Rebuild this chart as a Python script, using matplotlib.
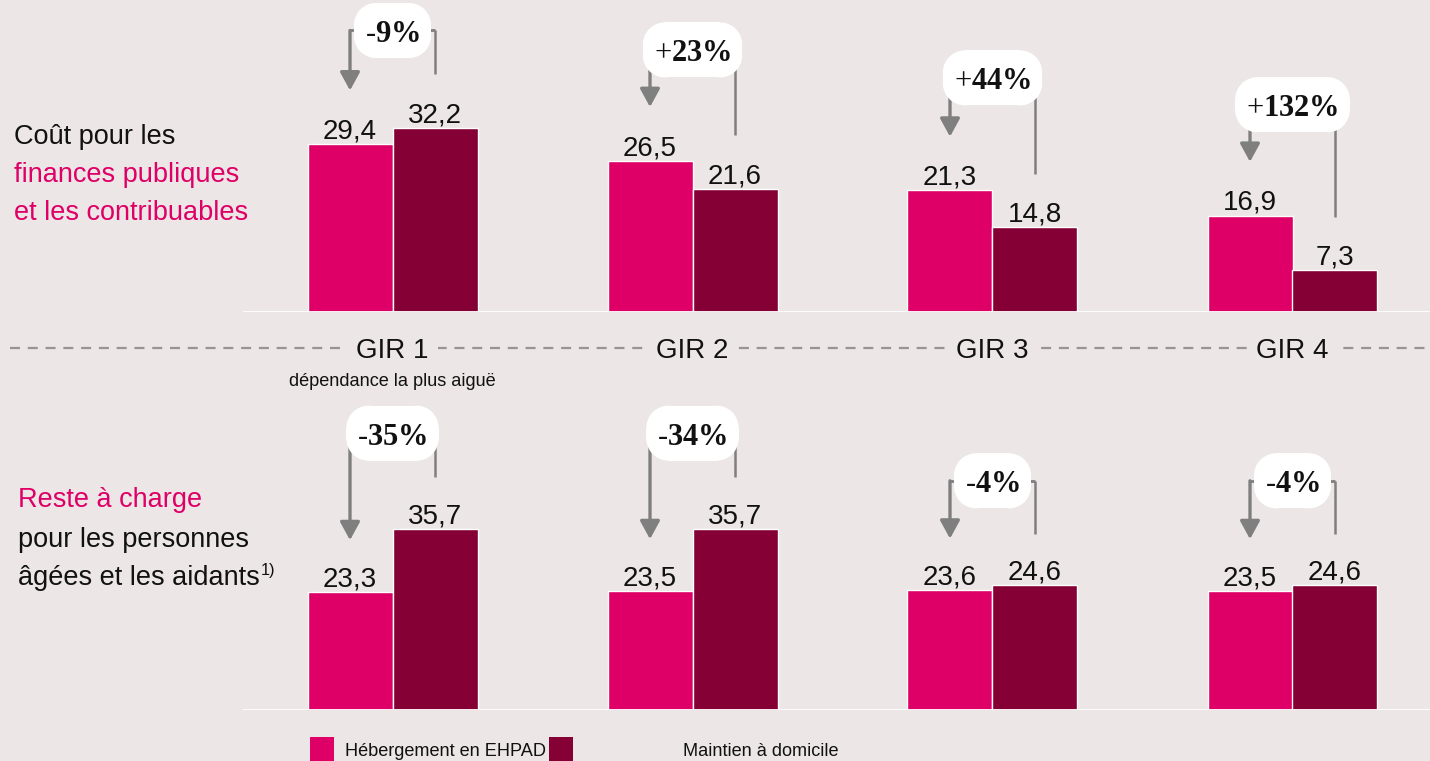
import numpy as np
import matplotlib
matplotlib.use('Agg')
import matplotlib.pyplot as plt
import matplotlib.patches as patches
from matplotlib.transforms import IdentityTransform
from matplotlib import font_manager as fm

# Data
groups = ['GIR 1', 'GIR 2', 'GIR 3', 'GIR 4']
cout_ehpad = [29.4, 26.5, 21.3, 16.9]
cout_domicile = [32.2, 21.6, 14.8, 7.3]
cout_ecart = ['-9%', '+23%', '+44%', '+132%']
reste_ehpad = [23.3, 23.5, 23.6, 23.5]
reste_domicile = [35.7, 35.7, 24.6, 24.6]
reste_ecart = ['-35%', '-34%', '-4%', '-4%']
legend_labels = ['Hébergement en EHPAD', 'Maintien à domicile']

# Colors
bg = '#ECE6E6'
pink = '#DE0066'
dark = '#850035'
grey = '#7F7F7F'
txt = '#111111'

# Fonts
names = {f.name for f in fm.fontManager.ttflist}
if 'Liberation Sans Narrow' in names:
    sans, k = 'Liberation Sans Narrow', 1.0
else:
    sans, k = 'Liberation Sans', 0.87
plt.rcParams['font.family'] = [sans, 'DejaVu Sans']
plt.rcParams['mathtext.fontset'] = 'custom'
plt.rcParams['mathtext.rm'] = 'Liberation Serif'
plt.rcParams['mathtext.bf'] = 'Liberation Serif:bold'

W, H = 1430, 761
fig = plt.figure(figsize=(W / 100, H / 100), dpi=100, facecolor=bg)

def fx(px):
    return px / W

def fy(py):
    return 1 - py / H

x0_px, grp_px = 392.5, 300.0
bw = 85 / grp_px
xlim = (-(x0_px - 243) / grp_px, (W - x0_px) / grp_px)

def make_ax(base_px, top_px, scale):
    ax = fig.add_axes([fx(243), fy(base_px), fx(W - 243), (base_px - top_px) / H])
    ax.set_xlim(*xlim)
    ax.set_ylim(0, (base_px - top_px) / scale)
    ax.set_axis_off()
    ax.patch.set_alpha(0)
    return ax

ax_top = make_ax(312, 0, 5.71)
ax_bot = make_ax(710, 400, 5.07)

top_callout_y = [49.3, 45.9, 41.0, 36.3]
bot_callout_y = [54.6, 54.6, 45.2, 45.2]

callouts = []

def fmt(v):
    return f'{v:.1f}'.replace('.', ',')

def panel(ax, a, b, ecarts, cy, off):
    x = np.arange(len(a))
    ax.bar(x - bw / 2, a, bw, color=pink, edgecolor='white', linewidth=1.0, zorder=2)
    ax.bar(x + bw / 2, b, bw, color=dark, edgecolor='white', linewidth=1.0, zorder=2)
    ax.axhline(0, color='white', lw=2.0, zorder=3)
    for i in range(len(a)):
        for xx, v in ((x[i] - bw / 2, a[i]), (x[i] + bw / 2, b[i])):
            ax.annotate(fmt(v), (xx, v), xytext=(0, 4), textcoords='offset points',
                        ha='center', va='baseline', fontsize=23 * k, color=txt)
        xp, xd = x[i] - bw / 2, x[i] + bw / 2
        ax.plot([xp, xd], [cy[i], cy[i]], color=grey, lw=2.0, zorder=4, clip_on=False,
                solid_capstyle='butt')
        ax.plot([xd, xd], [cy[i], b[i] + off], color=grey, lw=1.8, zorder=4, clip_on=False,
                solid_capstyle='butt')
        ax.annotate('', xy=(xp, a[i] + off), xytext=(xp, cy[i]),
                    arrowprops=dict(arrowstyle='-|>,head_width=0.3,head_length=0.55',
                                    mutation_scale=20, lw=2.4, color=grey,
                                    shrinkA=0, shrinkB=0), zorder=4, annotation_clip=False)
        s = ecarts[i]
        sign = '\u2010' if s[0] == '-' else '+'
        lab = r'$\mathrm{%s}\mathbf{%s\%%}$' % (sign, s[1:-1])
        t = ax.annotate(lab, (x[i], cy[i]), xytext=(0, -2.5), textcoords='offset points',
                        ha='center', va='center', fontsize=22, color=txt, zorder=6,
                        annotation_clip=False)
        callouts.append((ax, x[i], cy[i], t))

panel(ax_top, cout_ehpad, cout_domicile, cout_ecart, top_callout_y, 9.4)
panel(ax_bot, reste_ehpad, reste_domicile, reste_ecart, bot_callout_y, 10.2)

# dashed separator with GIR labels
fig.add_artist(plt.Line2D([fx(10), fx(W)], [fy(348), fy(348)], color='#9A9392', lw=1.6,
                          dashes=(4.5, 3.5), transform=fig.transFigure, zorder=1))
for i, g in enumerate(groups):
    fig.text(fx(x0_px + i * grp_px), fy(351), g, ha='center', va='center',
             fontsize=23 * k, color=txt, zorder=3,
             bbox=dict(boxstyle='square,pad=0.35', fc=bg, ec='none'))
fig.text(fx(x0_px), fy(381), 'dépendance la plus aiguë', ha='center', va='center',
         fontsize=15.5 * 0.84, color=txt)

# left labels
lk = 0.85
for py, s, c in ((137, 'Coût pour les', txt), (175, 'finances publiques', pink),
                 (213, 'et les contribuables', pink)):
    fig.text(fx(14), fy(py), s, ha='left', va='center', fontsize=23 * lk, color=c)
for py, s, c in ((500, 'Reste à charge', pink), (540, 'pour les personnes', txt),
                 (578, 'âgées et les aidants', txt)):
    t = fig.text(fx(18), fy(py), s, ha='left', va='center', fontsize=23 * lk, color=c)

# legend
for xl, c in ((310, pink), (549, dark)):
    fig.add_artist(patches.Rectangle((fx(xl), 0), fx(24), fy(737), facecolor=c,
                                     edgecolor='none', transform=fig.transFigure))
fig.text(fx(345), fy(751), legend_labels[0], ha='left', va='center', fontsize=15.5 * 0.84, color=txt)
fig.text(fx(683), fy(751), legend_labels[1], ha='left', va='center', fontsize=15.5 * 0.84, color=txt)

fig.canvas.draw()
ext = t.get_window_extent()
fig.text(ext.x1 / W + 0.001, fy(570), '1)', ha='left', va='center', fontsize=14 * 0.84, color=txt)

# white rounded boxes behind the callout labels (rectangles + corner circles)
def add_white(ax, p):
    p.set(fc='white', ec='none', transform=IdentityTransform(), zorder=5, clip_on=False)
    ax.add_artist(p)

for ax, xc, yc, tt in callouts:
    e = tt.get_window_extent()
    cx, cyd = ax.transData.transform((xc, yc))
    hh = 27.5
    rr = 22
    hw = max(e.width + 22, 2 * rr + 8) / 2
    add_white(ax, patches.Rectangle((cx - hw, cyd - hh + rr), 2 * hw, 2 * (hh - rr)))
    add_white(ax, patches.Rectangle((cx - hw + rr, cyd - hh), 2 * (hw - rr), 2 * hh))
    for ex in (cx - hw + rr, cx + hw - rr):
        for ey in (cyd - hh + rr, cyd + hh - rr):
            add_white(ax, patches.Circle((ex, ey), rr))

fig.savefig('out.png', dpi=100, facecolor=bg)
